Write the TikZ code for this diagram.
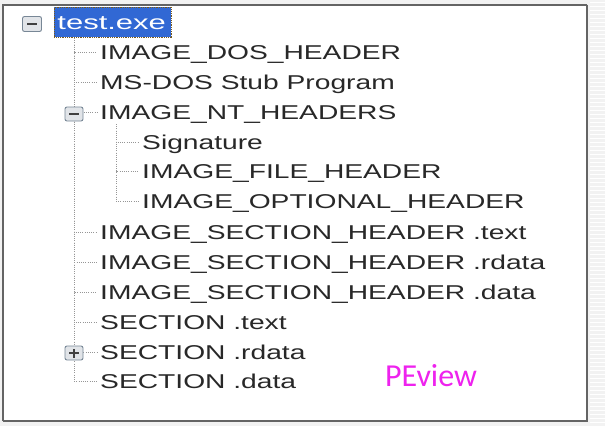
\documentclass[tikz,border=0pt]{standalone}
\usepackage{fontspec}
\newfontfamily\treefont[FakeStretch=1.41]{Liberation Sans}
\newfontfamily\rootfont[FakeStretch=1.55]{Liberation Sans}
\newfontfamily\pefont{Carlito}
\definecolor{outbg}{RGB}{242,242,242}
\definecolor{framec}{RGB}{100,100,100}
\definecolor{dotc}{RGB}{150,150,150}
\definecolor{selblue}{RGB}{49,104,212}
\definecolor{selborder}{RGB}{120,90,30}
\definecolor{boxborder}{RGB}{120,135,150}
\definecolor{boxfill}{RGB}{225,228,232}
\definecolor{pemag}{RGB}{238,34,238}
\definecolor{txt}{RGB}{40,40,40}
\tikzset{
  item/.style={anchor=west, inner sep=0pt, font=\treefont\fontsize{20}{24}\selectfont,
    text height=14pt, text depth=0pt, text=txt},
  treeline/.style={draw=dotc, line width=0.8pt, dash pattern=on 1pt off 1.2pt},
  expbox/.style={draw=boxborder, fill=boxfill, rounded corners=2pt, minimum width=18pt,
    minimum height=14pt, inner sep=0pt, line width=0.9pt},
  signline/.style={draw=black!75, line width=1.4pt},
}
\begin{document}
\begin{tikzpicture}[x=1pt,y=-1pt]
\useasboundingbox (0,0) rectangle (605,426);
\fill[outbg] (0,0) rectangle (605,426);
\foreach \yy in {2,6,...,424} \draw[white, line width=1pt] (590,\yy) -- (605,\yy);
\fill[white] (3,5) rectangle (587,421);
\draw[framec, line width=1.2pt] (3,421) -- (3,5) -- (587,5);
\draw[framec, line width=2.6pt] (587,4.5) -- (587,421) -- (2.5,421);

% root
\node[item, font=\rootfont\fontsize{20}{24}\selectfont, text=white, fill=selblue, draw=selborder,
  densely dotted, line width=0.8pt, inner xsep=3pt, inner ysep=8pt, text width=111pt, align=left]
  (root) at (54,22) {test.exe};

% level 1
\node[item] (dos)   at (100,52)  {IMAGE\_DOS\_HEADER};
\node[item] (msdos) at (100,82)  {MS-DOS Stub Program};
\node[item] (nt)    at (100,112) {IMAGE\_NT\_HEADERS};
\node[item] (sig)   at (142,142) {Signature};
\node[item] (fileh) at (142,171) {IMAGE\_FILE\_HEADER};
\node[item] (opth)  at (142,201) {IMAGE\_OPTIONAL\_HEADER};
\node[item] (sht)   at (100,232) {IMAGE\_SECTION\_HEADER .text};
\node[item] (shr)   at (100,262) {IMAGE\_SECTION\_HEADER .rdata};
\node[item] (shd)   at (100,292) {IMAGE\_SECTION\_HEADER .data};
\node[item] (sect)  at (100,322) {SECTION .text};
\node[item] (secr)  at (100,352) {SECTION .rdata};
\node[item] (secd)  at (100,381) {SECTION .data};

% tree lines
\coordinate (t1) at (74,38);
\foreach \n in {dos,msdos,nt,sht,shr,shd,sect,secr,secd}
  \draw[treeline] (t1) |- ([xshift=-3pt]\n.west);
\coordinate (t2) at (116,124);
\foreach \n in {sig,fileh,opth}
  \draw[treeline] (t2) |- ([xshift=-3pt]\n.west);

% expand boxes
\node[expbox, minimum width=19pt, minimum height=15pt] (brt) at (32,24) {};
\draw[signline] ([xshift=-5pt]brt.center) -- ([xshift=5pt]brt.center);
\node[expbox] (bnt) at (74,114) {};
\draw[signline] ([xshift=-5pt]bnt.center) -- ([xshift=5pt]bnt.center);
\node[expbox] (bsr) at (74,353) {};
\draw[signline] ([xshift=-5pt]bsr.center) -- ([xshift=5pt]bsr.center);
\draw[signline] ([yshift=-4.5pt]bsr.center) -- ([yshift=4.5pt]bsr.center);

% label
\node[font=\pefont\fontsize{32}{36}\selectfont, text=pemag, inner sep=0pt] (pe) at (431,376) {PEview};
\end{tikzpicture}
\end{document}
